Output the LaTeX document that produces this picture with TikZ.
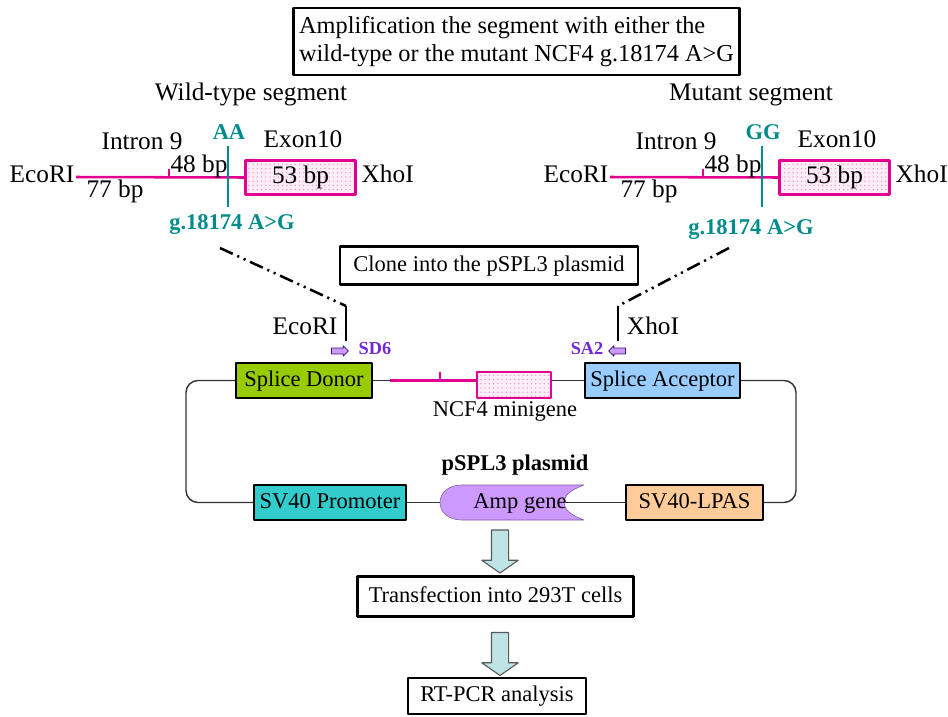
\documentclass[tikz,border=0pt]{standalone}
\usepackage{fontspec}
\setmainfont{Liberation Serif}
\usetikzlibrary{patterns,shapes.arrows}
\definecolor{mag}{RGB}{226,0,145}
\definecolor{snp}{RGB}{0,140,140}
\definecolor{prim}{RGB}{112,40,220}
\definecolor{donor}{RGB}{153,204,0}
\definecolor{acceptor}{RGB}{153,204,255}
\definecolor{promoter}{RGB}{51,204,204}
\definecolor{lpas}{RGB}{255,204,153}
\definecolor{amp}{RGB}{204,153,255}
\definecolor{flowc}{RGB}{190,228,230}
\tikzset{
  big/.style={font=\fontsize{18}{20}\selectfont},
  mut/.style={font=\fontsize{16}{19}\selectfont\bfseries,text=snp},
  primtxt/.style={font=\fontsize{13}{15}\selectfont\bfseries,text=prim},
  box/.style={draw,line width=1.5pt,inner sep=4pt},
  gene/.style={draw,line width=1.6pt,minimum height=0.875cm,inner sep=2pt},
  exon/.style={draw=mag,line width=1.7pt,preaction={fill=mag!7},pattern=dots,pattern color=mag!45},
  seg/.style={draw=mag,line width=1.8pt},
  cut/.style={line width=1.8pt,dash pattern=on 10pt off 3.5pt on 1.5pt off 3.5pt on 1.5pt off 3.5pt},
  primer/.style={single arrow,draw=prim!50!black,fill=amp,line width=0.6pt,text height=0pt,text depth=0pt,
    inner sep=1.8pt,minimum height=0.42cm,single arrow head extend=1.6pt},
  flow/.style={single arrow,draw=gray!70!black,fill=flowc,line width=0.8pt,shape border rotate=270,text height=0pt,text depth=0pt,
    inner sep=0.2cm,minimum height=1.075cm,single arrow head extend=0.24cm,single arrow tip angle=110},
}
\begin{document}
\begin{tikzpicture}[x=0.025cm,y=-0.025cm,line join=round,
  every node/.style={font=\fontsize{16}{19}\selectfont,text height=12pt,text depth=3.5pt,inner sep=1pt}]
\useasboundingbox (0,0) rectangle (948,717);
% top step
\node[box,font=\fontsize{17.3}{20}\selectfont,align=left,text height=,text depth=,minimum width=11cm,minimum height=1.675cm] (amplify) at (516.5,41.5)
  {Amplification the segment with either the\\wild-type or the mutant NCF4 g.18174 A>G};
\node[big] (wtname) at (251,95) {Wild-type segment};
\node[big] (mtname) at (751,95) {Mutant segment};
% the two segments
\foreach \dx/\al/\gx/\gy/\nm in {0/AA/232/224/wt,534/GG/217/229/mt}{
  \begin{scope}[shift={(\dx,0)}]
    \node[big] (eco\nm) at (42,177) {EcoRI};
    \node[exon,big,minimum width=2.75cm,minimum height=0.85cm] (ex\nm) at (300.5,177.5) {53 bp};
    \node[big,anchor=west] (xho\nm) at (360,177) {XhoI};
    \draw[seg] (eco\nm.east) -- (ex\nm.west);
    \draw[seg] (169,177) -- (169,169);
    \node[big] (bpa\nm) at (199,167) {48 bp};
    \node[big] (bpb\nm) at (115,192) {77 bp};
    \node[big] (intr\nm) at (142,144) {Intron 9};
    \node[big] (exn\nm) at (303,142) {Exon10};
    \draw[snp,line width=1.6pt] (228,146) -- (228,207);
    \node[mut] (al\nm) at (229,134) {\al};
    \node[mut] (g\nm) at (\gx,\gy) {g.18174 A>G};
  \end{scope}
}
% cloning
\node[box,minimum width=7.45cm,minimum height=0.95cm] (clone) at (489,265.5) {Clone into the pSPL3 plasmid};
\coordinate (ecotop) at (346,306);
\coordinate (ecobot) at (346,341);
\coordinate (xhotop) at (618,306);
\coordinate (xhobot) at (618,341);
\draw[cut] (220,248) -- (ecotop);
\draw[cut] (729,248) -- (xhotop);
\draw[line width=2pt] (ecotop) -- (ecobot);
\draw[line width=2pt] (xhotop) -- (xhobot);
\node[big] (ecocut) at (305,329) {EcoRI};
\node[big] (xhocut) at (653,329) {XhoI};
\node[primer] (sdarr) at (338.5,351) {};
\node[primer,shape border rotate=180] (saarr) at (618.5,351) {};
\node[primtxt] (sd6) at (375,349) {SD6};
\node[primtxt] (sa2) at (587,349) {SA2};
% plasmid
\node[gene,fill=donor,minimum width=3.4cm] (donor) at (304,380.5) {Splice Donor};
\node[gene,fill=acceptor,minimum width=3.875cm] (acceptor) at (662.5,380.5) {Splice Acceptor};
\node[exon,minimum width=1.85cm,minimum height=0.65cm] (mini) at (514,385) {};
\coordinate (mgl) at (390,380.5);
\draw[line width=1pt,black!80] (donor.east) -- (mgl);
\draw[seg] (mgl) -- (mini.west |- mgl);
\draw[seg] (440,380.5) -- (440,372);
\draw[line width=1pt,black!80] (mini.east |- mgl) -- (acceptor.west);
\node (minilbl) at (505,411) {NCF4 minigene};
\node[font=\fontsize{16}{19}\selectfont\bfseries] (plasmid) at (515,465) {pSPL3 plasmid};
\node[gene,fill=promoter,minimum width=3.8cm] (prom) at (330,502.5) {SV40 Promoter};
\node[gene,fill=lpas,minimum width=3.425cm] (lpas) at (694.5,502.5) {SV40-LPAS};
\coordinate (ampl) at (440,502.5);
\coordinate (ampr) at (564,502.5);
\fill[amp,draw=amp!60!black,line width=0.4pt] (462,485) -- (584,485) .. controls (570,490) and (564,496) .. (ampr)
  .. controls (564,509) and (570,515) .. (584,520) -- (462,520) .. controls (448,520) and (440,512) .. (ampl)
  .. controls (440,493) and (448,485) .. (462,485) -- cycle;
\node (ampg) at (520,503) {Amp gene};
\draw[line width=1pt,black!80,rounded corners=0.3cm] (donor.west) -- (186,380.5) -- (186,502.5) -- (prom.west);
\draw[line width=1pt,black!80,rounded corners=0.3cm] (acceptor.east) -- (796,380.5) -- (796,502.5) -- (lpas.east);
\draw[line width=1pt,black!80] (prom.east) -- (ampl);
\draw[line width=1pt,black!80] (lpas.west) -- (ampr);
% downstream
\node[flow] (arrone) at (500,548.5) {};
\node[box,minimum width=6.9cm,minimum height=1cm] (transfect) at (495.5,596.5) {Transfection into 293T cells};
\node[flow] (arrtwo) at (500,651) {};
\node[box,minimum width=4.45cm,minimum height=0.88cm] (rtpcr) at (497,696) {RT-PCR analysis};
\end{tikzpicture}
\end{document}
